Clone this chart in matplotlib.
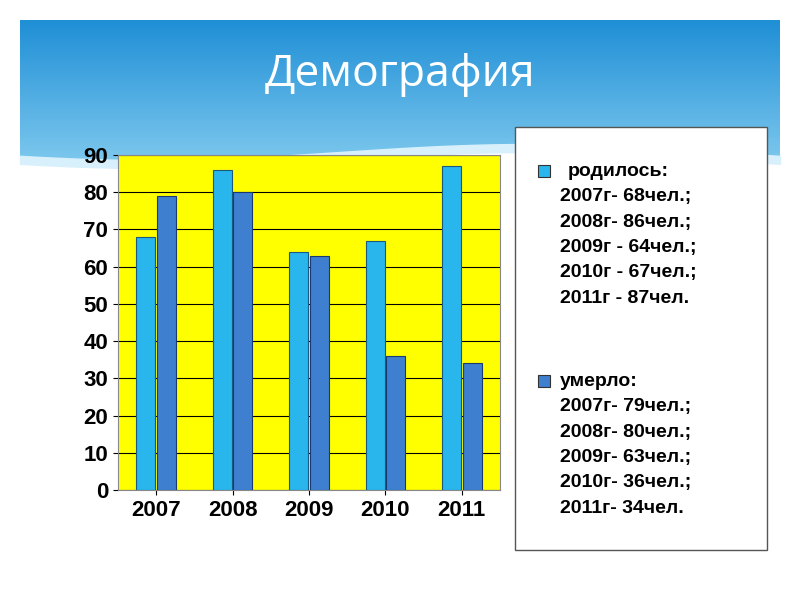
import matplotlib
matplotlib.use("Agg")
import matplotlib.pyplot as plt
import numpy as np
from matplotlib.patches import Rectangle

plt.rcParams['font.family'] = ['Liberation Sans', 'DejaVu Sans']

years = ["2007", "2008", "2009", "2010", "2011"]
born = [68, 86, 64, 67, 87]
died = [79, 80, 63, 36, 34]
yticks = [0, 10, 20, 30, 40, 50, 60, 70, 80, 90]
title = "Демография"
born_lines = ["родилось:", "2007г- 68чел.;", "2008г- 86чел.;", "2009г - 64чел.;", "2010г - 67чел.;", "2011г - 87чел."]
died_lines = ["умерло:", "2007г- 79чел.;", "2008г- 80чел.;", "2009г- 63чел.;", "2010г- 36чел.;", "2011г- 34чел."]

fig = plt.figure(figsize=(8, 6), dpi=100)
bg = fig.add_axes([0, 0, 1, 1])
bg.set_xlim(0, 800); bg.set_ylim(600, 0); bg.axis("off")
grad = np.linspace(0, 1, 200).reshape(-1, 1)
cmap = matplotlib.colors.LinearSegmentedColormap.from_list("s", ["#1f8fd6", "#8fd3f2"])
bg.imshow(grad, extent=[20, 780, 190, 20], cmap=cmap, aspect="auto", zorder=0)
xs = np.linspace(20, 780, 200)
wave = 160 + 8 * np.sin((xs - 20) / 760 * 2 * np.pi + 0.5)
bg.fill_between(xs, wave, 600, color="white", zorder=1)
bg.fill_between(xs, wave - 8, wave, color="#d8f0fb", zorder=1)
bg.text(400, 75, title, color="white", fontsize=32, ha="center", va="center", zorder=2,
        family=["Open Sans", "DejaVu Sans"])

bg.add_patch(Rectangle((515, 127), 252, 423, facecolor="white", edgecolor="#555555", lw=1, zorder=2))
bg.add_patch(Rectangle((538, 165), 12, 12, facecolor="#29b6ec", edgecolor="#333333", lw=0.8, zorder=3))
bg.add_patch(Rectangle((538, 375), 12, 12, facecolor="#3e7fd0", edgecolor="#333333", lw=0.8, zorder=3))
for i, t in enumerate(born_lines):
    bg.text(568 if i == 0 else 560, 171 + i * 25.5, t, fontsize=14, fontweight="bold", va="center", zorder=3)
for i, t in enumerate(died_lines):
    bg.text(560, 381 + i * 25.5, t, fontsize=14, fontweight="bold", va="center", zorder=3)

ax = fig.add_axes([118/800, 110/600, 382/800, 335/600])
ax.set_facecolor("#ffff00")
x = np.arange(len(years))
w = 0.25
ax.bar(x - w/2 - 0.01, born, w, color="#29b6ec", edgecolor="#1a5a80", lw=0.8, zorder=3)
ax.bar(x + w/2 + 0.01, died, w, color="#3e7fd0", edgecolor="#1a3a70", lw=0.8, zorder=3)
ax.set_ylim(0, 90)
ax.set_xlim(-0.5, 4.5)
ax.set_yticks(yticks)
ax.grid(axis="y", color="black", lw=0.8, zorder=0)
ax.set_xticks(x)
ax.set_xticklabels(years, fontsize=16, fontweight="bold")
ax.tick_params(axis="y", labelsize=16)
for l in ax.get_yticklabels():
    l.set_fontweight("bold")
for s in ax.spines.values():
    s.set_color("#888888")
fig.savefig("out.png", dpi=100)
